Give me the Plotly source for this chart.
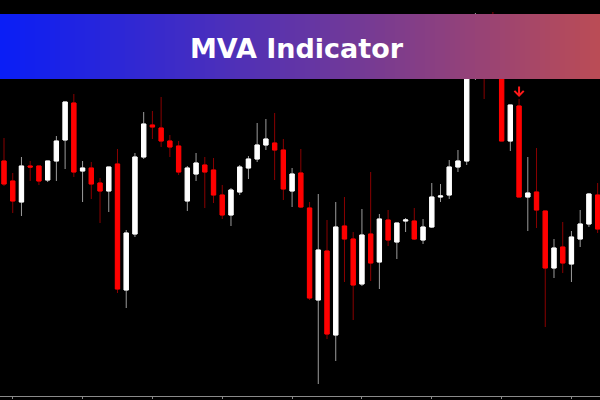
import plotly.graph_objects as go

# Candle data (index = bar number)
bar_index = list(range(69))
open_ = [239, 219, 198, 234, 234, 220, 239, 260, 297, 229, 232, 217, 209, 236, 110, 166, 243, 275, 272, 259,
         254, 199, 226, 235, 230, 205, 185, 208, 232, 241, 255, 257, 250, 209, 227, 192, 100, 149, 65, 174,
         161, 116, 166, 138, 180, 158, 179, 179, 160, 173, 203, 205, 233, 239, 330, 368, 378, 338, 259, 294,
         203, 208, 189, 132, 153, 136, 161, 176, 205]
high = [262, 227, 243, 239, 234, 239, 264, 298, 306, 239, 238, 222, 233, 251, 170, 247, 288, 289, 303, 265,
        259, 234, 247, 243, 242, 215, 212, 235, 244, 277, 281, 287, 261, 232, 251, 198, 206, 180, 198, 203,
        168, 191, 228, 186, 190, 177, 182, 192, 181, 217, 216, 240, 250, 330, 387, 375, 388, 350, 295, 301,
        243, 252, 189, 161, 178, 169, 190, 207, 217]
low = [214, 187, 184, 219, 215, 218, 219, 231, 223, 198, 201, 177, 188, 107, 92, 163, 241, 261, 253, 243,
       225, 189, 219, 192, 197, 181, 174, 205, 221, 238, 250, 220, 200, 193, 192, 100, 16, 61, 39, 118,
       80, 114, 119, 111, 154, 141, 168, 160, 156, 172, 198, 201, 228, 235, 320, 301, 328, 259, 249, 203,
       169, 172, 73, 122, 127, 118, 153, 173, 167]
close = [216, 199, 234, 233, 219, 239, 259, 298, 228, 232, 216, 209, 233, 111, 167, 243, 276, 273, 259, 253,
         228, 232, 237, 228, 205, 185, 210, 233, 241, 255, 261, 250, 211, 226, 193, 102, 150, 66, 173, 161,
         115, 165, 137, 181, 160, 177, 180, 161, 173, 203, 204, 233, 239, 325, 370, 332, 340, 259, 295, 203,
         207, 190, 132, 152, 137, 163, 176, 206, 171]
signal_bar = 59  # sell arrow bar
title_text = "MVA Indicator"

body_high = [max(o, c) for o, c in zip(open_, close)]
body_low = [min(o, c) for o, c in zip(open_, close)]

fig = go.Figure()
# wicks
fig.add_trace(go.Candlestick(
    x=bar_index, open=open_, high=high, low=low, close=close,
    increasing=dict(line=dict(color="#9c9c9c", width=1), fillcolor="#9c9c9c"),
    decreasing=dict(line=dict(color="#8a0000", width=1), fillcolor="#8a0000"),
    whiskerwidth=0, hoverinfo="skip", showlegend=False))
# bodies
fig.add_trace(go.Candlestick(
    x=bar_index, open=open_, high=body_high, low=body_low, close=close,
    increasing=dict(line=dict(color="#ffffff", width=1), fillcolor="#ffffff"),
    decreasing=dict(line=dict(color="#ff0000", width=1), fillcolor="#ff0000"),
    whiskerwidth=0, hoverinfo="skip", showlegend=False))

# gradient banner (decoration)
left_rgb = (10, 30, 246)
right_rgb = (186, 76, 86)
n_strips = 120
shapes = []
for k in range(n_strips):
    t = k / (n_strips - 1)
    col = tuple(int(round(a + (b - a) * t)) for a, b in zip(left_rgb, right_rgb))
    shapes.append(dict(type="rect", xref="paper", yref="paper",
                       x0=k / n_strips, x1=(k + 1) / n_strips + 0.002,
                       y0=(396 - 79) / 396, y1=(396 - 14) / 396,
                       fillcolor="rgb(%d,%d,%d)" % col, line=dict(width=0), layer="above"))

annotations = [
    dict(xref="paper", yref="paper", x=0.495, y=(396 - 48) / 396, text="<b>%s</b>" % title_text,
         showarrow=False, font=dict(family="DejaVu Sans", size=27, color="white"),
         xanchor="center", yanchor="middle"),
    dict(x=signal_bar, y=high[signal_bar], xref="x", yref="y", text="", showarrow=True,
         arrowhead=4, arrowsize=0.9, arrowwidth=2, arrowcolor="#ff1a1a", ax=0, ay=-14, standoff=2),
]

fig.update_layout(
    width=600, height=400, margin=dict(l=0, r=0, t=0, b=4),
    paper_bgcolor="black", plot_bgcolor="black",
    shapes=shapes, annotations=annotations, showlegend=False, hovermode=False,
    xaxis=dict(range=[-0.458, 68.27], rangeslider=dict(visible=False), showgrid=False, zeroline=False,
               showline=True, linecolor="#8a8a8a", linewidth=1,
               ticks="outside", ticklen=2, tickcolor="#8a8a8a",
               tickvals=bar_index[1::8], showticklabels=False),
    yaxis=dict(range=[4, 400], visible=False, showgrid=False, zeroline=False),
)

fig.write_html("out.html", config={"displayModeBar": False},
               post_script="document.body.style.margin='0';document.body.style.background='black';")
